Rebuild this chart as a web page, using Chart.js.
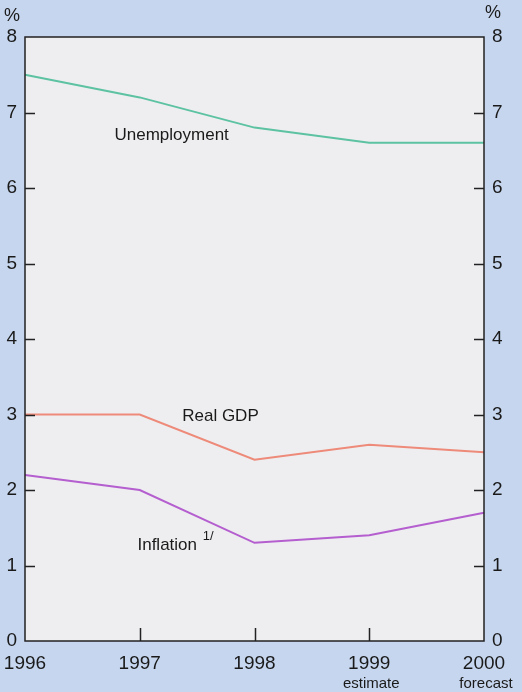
<!DOCTYPE html>
<html>
<head>
<meta charset="utf-8">
<script src="https://cdn.jsdelivr.net/npm/chart.js@4/dist/chart.umd.min.js"></script>
<style>
  html, body { margin: 0; padding: 0; background: #c6d6ee; }
  #wrap { width: 522px; height: 692px; position: relative; }
</style>
</head>
<body>
<div id="wrap"><canvas id="chart"></canvas></div>
<script>
'use strict'

const years = ['1996', '1997', '1998', '1999', '2000']
const yearNotes = ['', '', '', 'estimate', 'forecast']
const unemployment = [7.5, 7.2, 6.8, 6.6, 6.6]
const realGdp = [3.0, 3.0, 2.4, 2.6, 2.5]
const inflation = [2.2, 2.0, 1.3, 1.4, 1.7]
const yTicks = [0, 1, 2, 3, 4, 5, 6, 7, 8]

const FONT = 'Liberation Sans, Arial, sans-serif'

// series labels, placed in data coordinates (x = year index, y = percent)
const seriesLabels = [
  { text: 'Unemployment', x: 0.78, y: 6.70 },
  { text: 'Real GDP', x: 1.37, y: 2.97 },
  { text: 'Inflation', x: 0.98, y: 1.27 }
]

const decor = {
  id: 'decor',
  beforeDraw(chart) {
    const { ctx, chartArea: a } = chart
    ctx.save()
    ctx.fillStyle = '#c6d6ee'
    ctx.fillRect(0, 0, chart.width, chart.height)
    ctx.fillStyle = '#eeeef0'
    ctx.fillRect(a.left, a.top, a.right - a.left, a.bottom - a.top)
    ctx.restore()
  },
  afterDraw(chart) {
    const { ctx, chartArea: a } = chart
    const x = chart.scales.x
    const y = chart.scales.y
    ctx.save()
    ctx.strokeStyle = '#222'
    ctx.lineWidth = 1.5
    ctx.strokeRect(a.left, a.top, a.right - a.left, a.bottom - a.top)

    // inside ticks
    ctx.beginPath()
    yTicks.slice(1, -1).forEach(v => {
      const py = Math.round(y.getPixelForValue(v)) + 0.5
      ctx.moveTo(a.left, py); ctx.lineTo(a.left + 10, py)
      ctx.moveTo(a.right, py); ctx.lineTo(a.right - 10, py)
    })
    years.slice(1, -1).forEach((yr, i) => {
      const px = Math.round(x.getPixelForValue(i + 1)) + 0.5
      ctx.moveTo(px, a.bottom); ctx.lineTo(px, a.bottom - 13)
    })
    ctx.stroke()

    ctx.fillStyle = '#1a1a1a'
    ctx.font = '18px ' + FONT
    ctx.textBaseline = 'middle'
    ctx.textAlign = 'center'
    ctx.fillText('%', 12, 16)
    ctx.fillText('%', 493, 13)

    // year notes under tick labels
    ctx.font = '15px ' + FONT
    yearNotes.forEach((note, i) => {
      if (!note) return
      ctx.fillText(note, x.getPixelForValue(i) + 2, 684)
    })

    // series labels
    ctx.font = '17px ' + FONT
    ctx.textAlign = 'left'
    seriesLabels.forEach(l => {
      ctx.fillText(l.text, x.getPixelForValue(l.x), y.getPixelForValue(l.y))
    })
    ctx.font = '13px ' + FONT
    ctx.fillText('1/', x.getPixelForValue(1.55), y.getPixelForValue(1.38))
    ctx.restore()
  }
}

function fixed(size) {
  return scale => {
    if (scale.isHorizontal()) scale.height = size
    else scale.width = size
  }
}

new Chart(document.getElementById('chart').getContext('2d'), {
  type: 'line',
  data: {
    labels: years,
    datasets: [{
      label: 'Unemployment',
      data: unemployment,
      borderColor: '#5cc2a2',
      borderWidth: 2,
      pointRadius: 0,
      tension: 0
    }, {
      label: 'Real GDP',
      data: realGdp,
      borderColor: '#ee8a79',
      borderWidth: 2,
      pointRadius: 0,
      tension: 0
    }, {
      label: 'Inflation',
      data: inflation,
      borderColor: '#b45ecf',
      borderWidth: 2,
      pointRadius: 0,
      tension: 0
    }]
  },
  options: {
    responsive: true,
    maintainAspectRatio: false,
    animation: false,
    devicePixelRatio: 1,
    layout: { padding: { top: 37, left: 0, right: 0, bottom: 0 } },
    plugins: {
      legend: { display: false },
      tooltip: { enabled: false }
    },
    scales: {
      x: {
        type: 'category',
        offset: false,
        afterFit: fixed(51),
        grid: {
          display: true,
          drawOnChartArea: false,
          drawTicks: true,
          tickLength: 8,
          tickColor: 'rgba(0,0,0,0)'
        },
        border: { display: false },
        ticks: {
          color: '#1a1a1a',
          font: { family: FONT, size: 19 },
          padding: 3,
          maxRotation: 0,
          autoSkip: false
        }
      },
      y: {
        position: 'left',
        min: 0,
        max: 8,
        afterFit: fixed(25),
        afterBuildTicks: s => { s.ticks = yTicks.map(v => ({ value: v })) },
        grid: { display: false, drawTicks: false },
        border: { display: false },
        ticks: {
          color: '#1a1a1a',
          font: { family: FONT, size: 19 },
          padding: 8
        }
      },
      y2: {
        position: 'right',
        min: 0,
        max: 8,
        afterFit: fixed(38),
        afterBuildTicks: s => { s.ticks = yTicks.map(v => ({ value: v })) },
        grid: { display: false, drawTicks: false },
        border: { display: false },
        ticks: {
          color: '#1a1a1a',
          font: { family: FONT, size: 19 },
          padding: 8
        }
      }
    }
  },
  plugins: [decor]
})
</script>
</body>
</html>
